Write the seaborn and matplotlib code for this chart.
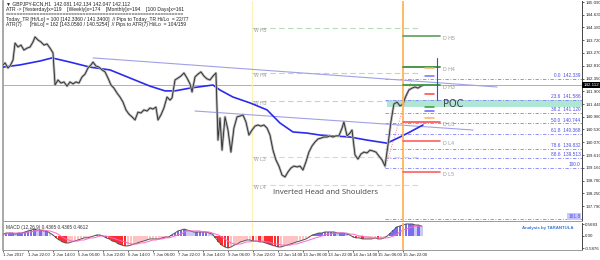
import matplotlib
matplotlib.use("Agg")
import matplotlib.pyplot as plt
import seaborn as sns
import numpy as np

sns.set_theme(style="white")
plt.rcParams['font.family'] = ['Liberation Sans', 'DejaVu Sans']

# ---------------- data ----------------
price_hours = [0, 1.3, 3.2, 4.5, 6.4, 7.7, 9.6, 11.5, 13.4, 15.4, 17.3, 19.2, 20.5, 22.4, 24.3, 26.2,
               28.2, 30.1, 32, 33.3, 35.2, 37.1, 39, 41, 42.9, 44.8, 46.7, 48.6, 50.6, 52.5, 54.4,
               56.3, 57.6, 59.5, 61.4, 63.4, 65.3, 67.2, 69.1, 71, 73, 74.9, 76.8, 78.7, 80.6, 82.6,
               84.5, 86.4, 88.3, 90.2, 92.2, 94.1, 96, 97.9, 99.2, 101.1, 103, 105, 106.9, 108.2,
               110.1, 112, 113.9, 115.8, 117.8, 119.7, 121, 122.9, 124.8, 126.7, 128.6, 130.6,
               132.5, 134.4, 136.3, 137.6, 138.9, 140.2, 142.1, 144, 145.9, 147.8, 149.8, 151.7,
               153.6, 155.5, 157.4, 159.4, 161.3, 163.2, 165.1, 167, 169, 170.9, 172.8, 174.7,
               176.6, 178.6, 180.5, 182.4, 184.3, 186.2, 188.2, 190.1, 192, 193.9, 195.8, 197.8,
               199.7, 201.6, 203.5, 205.4, 207.4, 209.3, 211.2, 213.1, 215, 217, 218.2, 220.2,
               222.1, 223.4, 225.3, 227.2, 229.1, 231, 233, 234.9, 236.8, 238.7, 240.6, 242.6,
               244.5, 246.4, 248.3, 250.2, 252.2, 254.1, 256, 257.9, 259.8, 261.8, 263.7, 265.6,
               267.5, 268.8]
price_close = [142.84, 142.91, 142.73, 142.80, 143.01, 143.62, 143.48, 143.55, 143.37, 143.44, 143.48,
               143.66, 143.84, 143.73, 143.66, 143.55, 143.59, 143.44, 143.27, 142.12, 142.30, 142.19,
               142.23, 142.08, 142.23, 142.16, 142.23, 142.19, 142.41, 142.51, 142.73, 142.84, 142.94,
               142.80, 142.76, 142.66, 142.59, 142.37, 142.12, 142.01, 141.83, 141.69, 141.51, 141.23,
               141.08, 140.98, 140.87, 141.15, 141.12, 141.23, 141.19, 141.30, 141.26, 141.33, 140.87,
               141.05, 141.30, 141.69, 141.58, 141.66, 142.30, 142.37, 142.44, 142.55, 142.37, 142.16,
               141.87, 142.41, 142.51, 142.59, 142.44, 142.34, 142.30, 142.44, 142.55, 140.15, 140.94,
               139.79, 140.98, 140.51, 139.72, 140.58, 140.98, 141.01, 141.05, 140.80, 140.33, 140.51,
               140.65, 140.69, 140.65, 140.69, 140.58, 140.33, 139.79, 139.44, 139.22, 138.90, 138.83,
               139.01, 139.15, 139.22, 139.19, 139.22, 139.08, 139.37, 139.72, 139.94, 140.08, 140.19,
               140.22, 140.26, 140.26, 140.30, 140.26, 140.30, 140.30, 140.58, 140.80, 140.30, 140.40,
               140.51, 139.62, 139.47, 139.65, 139.72, 139.69, 139.79, 139.76, 139.72, 139.58, 139.44,
               139.22, 139.97, 140.80, 141.44, 141.51, 141.37, 141.44, 141.73, 141.94, 142.01, 142.05,
               142.01, 142.08, 142.11]

ma_hours = [0, 10.9, 23.7, 31.4, 42.9, 55.7, 68.5, 81.3, 94.1, 103.7, 110.1, 119.7, 134.4, 138.9,
            147.2, 158.1, 169, 177.3, 185.6, 194.6, 202.9, 211.2, 222.1, 233, 245.8, 254.1, 260.5, 268.8]
ma_vals = [142.76, 142.84, 142.98, 143.09, 142.94, 142.76, 142.66, 142.37, 142.08, 141.91, 141.91,
           142.01, 142.12, 141.94, 141.69, 141.48, 141.23, 140.76, 140.44, 140.40, 140.33, 140.30,
           140.26, 140.15, 140.04, 140.26, 140.44, 140.69]

trend_upper_h = [57.6, 316.2]
trend_upper_p = [143.09, 142.05]
trend_lower_h = [122.9, 300.8]
trend_lower_p = [141.19, 140.51]

fib_names = ["0.0", "23.6", "38.2", "50.0", "61.8", "78.6", "88.6", "100.0", "161.8"]
fib_prices = [142.339, 141.586, 141.120, 140.744, 140.368, 139.832, 139.513, 139.150, 137.330]
fib_start_h = 244.5
fib_swing_h = [244.5, 261.8]
fib_swing_p = [139.150, 142.339]

weekly_names = ["W H5", "W H4", "W H3", "W L3", "W L4"]
weekly_prices = [144.16, 142.55, 141.55, 139.54, 138.54]
weekly_span_h = [159.4, 267.0]

daily_names = ["D H5", "D H4", "D H3", "D L3", "D L4", "D L5"]
daily_prices = [143.87, 142.76, 142.12, 140.80, 140.12, 139.01]
daily_colors = ["#6aa56a", "#3c8f3c", "#3c9a3c", "#ff5a5a", "#ff6b6b", "#ff6b6b"]
daily_span_h = [256.0, 279.5]

mark_prices = [142.73, 142.44, 141.80, 141.33, 141.19, 140.94]
mark_colors = ["#ffb060", "#7070ff", "#ff4040", "#30a030", "#6060ff", "#ffb060"]
mark_span_h = [270.0, 276.0]
range_bar_h = 277.8
range_bar_p = [141.58, 143.09]

poc_low, poc_high = 141.33, 141.58
poc_start_h = 245.8
current_price = 142.112

y_ticks = [145.090, 144.630, 144.180, 143.720, 143.270, 142.810, 142.350, 141.900, 141.440,
           140.980, 140.530, 140.070, 139.610, 139.160, 138.700, 138.250, 137.790]

date_labels = ["1 Jun 2017", "1 Jun 22:00", "2 Jun 14:00", "5 Jun 06:00", "5 Jun 22:00",
               "6 Jun 14:00", "7 Jun 06:00", "7 Jun 22:00", "8 Jun 14:00", "9 Jun 06:00",
               "9 Jun 22:00", "12 Jun 14:00", "13 Jun 06:00", "13 Jun 22:00", "14 Jun 14:00",
               "15 Jun 06:00", "15 Jun 22:00"]
date_hours = [0, 16, 32, 48, 64, 80, 96, 112, 128, 144, 160, 176, 192, 208, 224, 240, 256]
day_line_h = 256
week_line_h = 159.4

macd_hours = list(range(0, 270, 2))
macd_hist = [0.09, 0.14, 0.14, 0.14, 0.09, 0.14, 0.14, 0.19,
             0.24, 0.28, 0.33, 0.28, 0.28, 0.24, 0.24, 0.14,
             0.05, -0.09, -0.19, -0.28, -0.33, -0.33, -0.28,
             -0.24, -0.19, -0.14, -0.09, -0.09, -0.05, 0.0,
             0.05, 0.05, 0.0,
             -0.09, -0.14, -0.24, -0.28, -0.38, -0.43, -0.47, -0.47, -0.43, -0.38,
             -0.33, -0.28, -0.24, -0.19, -0.14, -0.14,
             -0.14, -0.14, -0.09, -0.05, -0.05,
             0.05, 0.14, 0.24, 0.28,
             0.33, 0.28, 0.24, 0.19, 0.19,
             0.19, 0.19, 0.19, 0.14, 0.09,
             -0.09, -0.28, -0.43, -0.52,
             -0.57, -0.52, -0.43, -0.38, -0.28, -0.24,
             -0.19, -0.19, -0.24, -0.24, -0.28, -0.28,
             -0.33, -0.38, -0.43, -0.47, -0.52, -0.52, -0.47,
             -0.43, -0.38, -0.33, -0.28, -0.24,
             -0.19, -0.14, -0.05,
             0.05, 0.09, 0.14, 0.14, 0.19, 0.19, 0.19, 0.19, 0.14, 0.14, 0.14,
             0.09, 0.05, -0.05, -0.09, -0.09, -0.14, -0.14, -0.14, -0.14, -0.09, -0.14, -0.14,
             -0.09, 0.0, 0.14, 0.28, 0.43,
             0.47, 0.52, 0.57, 0.57, 0.57, 0.52, 0.52, 0.47]
macd_signal = [0.09, 0.09, 0.14, 0.14, 0.14, 0.14, 0.14, 0.14,
               0.19, 0.19, 0.24, 0.24, 0.28, 0.28, 0.24, 0.24,
               0.19, 0.14, 0.05, -0.05, -0.14, -0.19, -0.24,
               -0.24, -0.24, -0.19, -0.19, -0.14, -0.09, -0.09,
               -0.05, 0.0, 0.0,
               0.0, -0.05, -0.09, -0.14, -0.19, -0.24, -0.28, -0.33, -0.38, -0.38,
               -0.38, -0.33, -0.33, -0.28, -0.24, -0.19,
               -0.19, -0.14, -0.14, -0.09, -0.09,
               -0.05, 0.0, 0.05, 0.09,
               0.19, 0.24, 0.24, 0.24, 0.24,
               0.24, 0.19, 0.19, 0.19, 0.14,
               0.09, 0.05, -0.05, -0.14,
               -0.24, -0.33, -0.38, -0.38, -0.38, -0.33,
               -0.28, -0.28, -0.24, -0.24, -0.24, -0.24,
               -0.28, -0.28, -0.33, -0.38, -0.38, -0.43, -0.43,
               -0.43, -0.43, -0.38, -0.38, -0.33,
               -0.28, -0.24, -0.19,
               -0.14, -0.09, -0.05, 0.0, 0.05, 0.09, 0.09, 0.14, 0.14, 0.14, 0.14,
               0.14, 0.09, 0.09, 0.05, 0.0, 0.0, -0.05, -0.05, -0.09, -0.09, -0.09, -0.09,
               -0.09, -0.09, -0.05, 0.0, 0.09,
               0.19, 0.28, 0.33, 0.38, 0.43, 0.47, 0.47, 0.47]
macd_ticks = [0.5683, 0.0, -0.5876]
macd_tick_labels = ["0.5683", "0.00", "-0.5876"]

header_lines = [
    "\u25bc GBPJPY-ECN,H1  142.081 142.134 142.047 142.112",
    "ATR -> [Yesterday]x=119    [Weekly]x=174    [Monthly]x=194    [100 Days]x=161",
    "==============================================================",
    "Today_TR [Hi/Lo] = 100 [142.3360 / 141.3400]  // Pips to Today_TR Hi/Lo  = 22/77",
    "ATR(7)      [Hi/Lo] = 162 [143.0560 / 140.5254]  // Pips to ATR(7) Hi/Lo  = 104/159",
]

# ---------------- figure ----------------
W, H = 600, 260
fig = plt.figure(figsize=(6, 2.6), dpi=100)
fig.patch.set_facecolor("white")


def box(x0, y0, x1, y1):
    return [x0 / W, 1 - y1 / H, (x1 - x0) / W, (y1 - y0) / H]


ax = fig.add_axes(box(3, 1, 582, 221))
axm = fig.add_axes(box(3, 223, 582, 250))
XMAX = 370.6
ax.set_xlim(0, XMAX)
axm.set_xlim(0, XMAX)
ax.set_ylim(137.255, 145.126)
axm.set_ylim(-0.664, 0.616)

for a in (ax, axm):
    a.set_facecolor("white")
    for s in a.spines.values():
        s.set_color("#9a9a9a")
        s.set_linewidth(0.7)
    a.spines["right"].set_color("#444444")
    a.spines["left"].set_linewidth(1.2)
    a.spines["top"].set_visible(False)

# POC band
ax.fill_between([poc_start_h, XMAX], poc_low, poc_high, color="#b0e6d4", lw=0, zorder=1)

# current price line
ax.axhline(current_price, color="#b0b0b0", lw=0.7, zorder=1)

# vertical separators
for a in (ax, axm):
    a.axvline(week_line_h, color="#fff0b8", lw=0.9, zorder=1)
    a.axvline(day_line_h, color="#ffb45a", lw=1.3, zorder=6)

# weekly pivots
for name, p in zip(weekly_names, weekly_prices):
    col = "#b8dcb8" if "H" in name else "#d8d8d8"
    ax.plot(weekly_span_h, [p, p], color=col, lw=0.8, ls=(0, (5, 3)), zorder=2)
    ax.text(weekly_span_h[0] + 1.5, p, name, fontsize=3.6, color="#9a9a9a", va="top", ha="left")

# fib levels
for name, p in zip(fib_names, fib_prices):
    ax.plot([fib_start_h, XMAX], [p, p], color="#8080ff", lw=0.6, ls=(0, (4, 2, 1, 2)), zorder=2)
    lab = name if name in ("100.0", "161.8") else f"{name}  {p:.3f}"
    if name == "161.8":
        ax.text(XMAX - 1, p, lab, fontsize=3.4, color="#4a4ae0", ha="right", va="bottom",
                bbox=dict(boxstyle="square,pad=0.15", fc="#c8c8ff", ec="none"))
    else:
        ax.text(XMAX - 1, p + 0.03, lab, fontsize=3.4, color="#4a4ae0", ha="right", va="bottom")
ax.plot(fib_swing_h, fib_swing_p, color="#ff8080", lw=0.7, ls=(0, (1, 1.5)), zorder=3)

# trend lines
ax.plot(trend_upper_h, trend_upper_p, color="#a0a0e8", lw=0.8, zorder=3)
ax.plot(trend_lower_h, trend_lower_p, color="#a0a0e8", lw=0.8, zorder=3)

# moving average
sns.lineplot(x=ma_hours, y=ma_vals, ax=ax, color="#2b2bf0", lw=1.2, zorder=4)

# price (candle-like: grey body band with dark core)
sns.lineplot(x=price_hours, y=price_close, ax=ax, color="#b4b4b4", lw=1.8, sort=False, zorder=5)
sns.lineplot(x=price_hours, y=price_close, ax=ax, color="#2a2a2a", lw=0.6, sort=False, zorder=5)

# daily pivots
for name, p, c in zip(daily_names, daily_prices, daily_colors):
    ax.plot(daily_span_h, [p, p], color=c, lw=1.3, zorder=6)
    ax.text(daily_span_h[1] + 2, p, name, fontsize=3.8, color="#9a9a9a", va="top", ha="left")

for p, c in zip(mark_prices, mark_colors):
    ax.plot(mark_span_h, [p, p], color=c, lw=1.1, zorder=6)
ax.plot([range_bar_h, range_bar_h], range_bar_p, color="#3344ff", lw=0.8, zorder=6)

ax.text(daily_span_h[1] + 2, (poc_low + poc_high) / 2, "POC", fontsize=7, color="#444444",
        va="center", ha="left", zorder=7, family="DejaVu Sans")
ax.text(173, 138.26, "Inverted Head and Shoulders", fontsize=5.6, color="#444444",
        va="center", ha="left", family="Open Sans")

# right axis
ax.set_xticks([])
ax.yaxis.tick_right()
ax.set_yticks(y_ticks)
ax.set_yticklabels([f"{t:.3f}" for t in y_ticks])
ax.tick_params(axis="y", labelsize=3.2, length=1.5, width=0.5, pad=0.8, colors="#222222", right=True)
ax.text(1.002, current_price, f"{current_price:.3f}", transform=ax.get_yaxis_transform(),
        fontsize=3.2, color="white", va="center", ha="left",
        bbox=dict(boxstyle="square,pad=0.2", fc="black", ec="none"), zorder=10, clip_on=False)
ax.set_xlabel("")
ax.set_ylabel("")

# MACD
cols = []
for i, v in enumerate(macd_hist):
    prev = macd_hist[i - 1] if i > 0 else v
    if v >= 0:
        cols.append("#7c6cf0" if v >= prev else "#c9c9f6")
    else:
        cols.append("#ff2d2d" if v < prev else "#ffc2c2")
axm.bar(macd_hours, macd_hist, width=1.7, color=cols, lw=0, zorder=2)
sns.lineplot(x=macd_hours, y=macd_hist, ax=axm, color="#555555", lw=0.7, zorder=3)
sns.lineplot(x=macd_hours, y=macd_signal, ax=axm, color="#ff66cc", lw=0.7, zorder=3)
axm.yaxis.tick_right()
axm.set_yticks(macd_ticks)
axm.set_yticklabels(macd_tick_labels)
axm.tick_params(axis="y", labelsize=3.2, length=1.5, width=0.5, pad=0.8, colors="#222222", right=True)
axm.set_xticks(date_hours)
axm.set_xticklabels(date_labels, ha="left")
axm.tick_params(axis="x", labelsize=3.1, length=1.5, width=0.5, pad=1, colors="#222222", bottom=True)
axm.set_xlabel("")
axm.set_ylabel("")
axm.text(0.005, 0.93, "MACD (12,26,9) 0.4365 0.4365 0.4612", transform=axm.transAxes,
         fontsize=3.4, color="#333333", va="top", ha="left")

fig.text(522 / W, 1 - 228 / H, "Analysis by TARANTULA", fontsize=3.2, color="#3a78d8",
         fontweight="bold", va="center", ha="left")

for i, line in enumerate(header_lines):
    fig.text(6 / W, 1 - (4 + 5.2 * i) / H, line, fontsize=3.6, color="#222222",
             va="center", ha="left")

fig.savefig("out.png", dpi=100, facecolor="white")
